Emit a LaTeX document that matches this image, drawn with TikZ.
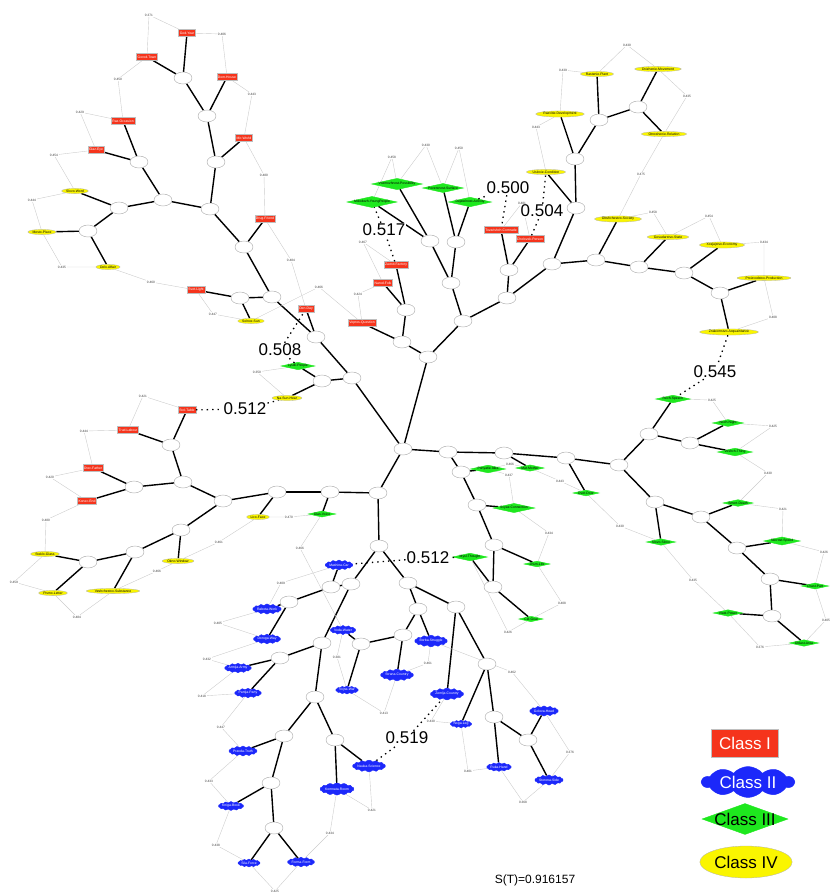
\documentclass[tikz,border=0pt]{standalone}
\usepackage{fontspec}
\setmainfont{Liberation Sans}
\usetikzlibrary{shapes.geometric,shapes.symbols}
\definecolor{cred}{RGB}{245,52,28}
\definecolor{cblue}{RGB}{28,40,250}
\definecolor{cgreen}{RGB}{30,232,30}
\definecolor{cyellow}{RGB}{250,245,0}
\newcommand\mytxt{\fontsize{3.4}{4}\selectfont}
\newcommand\mynum{\fontsize{3.2}{4}\selectfont}
\newcommand\mybig{\fontsize{17}{20}\selectfont}
\newcommand\myleg{\fontsize{17}{20}\selectfont}
\pgfdeclarelayer{bg}
\pgfsetlayers{bg,main}
\tikzset{
 cI/.style={rectangle, fill=cred, draw=gray!50, line width=0.3pt, text=white, font=\mytxt, inner sep=1.2pt, minimum height=7pt},
 cII/.style={cloud, cloud puffs=14, cloud puff arc=110, aspect=4, fill=cblue, draw=cblue, text=white, font=\mytxt, inner sep=0pt},
 cIII/.style={diamond, aspect=4.5, fill=cgreen, draw=cgreen, text=black, font=\mytxt, inner sep=0pt},
 cIV/.style={ellipse, fill=cyellow, draw=gray!60, line width=0.3pt, text=black, font=\mytxt, inner sep=0.6pt},
 inode/.style={ellipse, draw=gray!70, line width=0.4pt, fill=white, minimum width=18pt, minimum height=12pt, inner sep=0pt},
 num/.style={font=\mynum, text=black!75, inner sep=0.6pt, fill=white},
 big/.style={font=\mybig, fill=white, inner sep=1pt},
 tr/.style={line width=1.4pt},
 ord/.style={draw=gray!40, line width=0.4pt},
 bad/.style={line width=1.3pt, dash pattern=on 1.4pt off 4pt},
}
\begin{document}
\begin{tikzpicture}[x=1pt,y=-1pt]
\useasboundingbox (0,0) rectangle (833,895);
% ---------------- internal nodes
\foreach \n/\p in {a1/{183,78},a2/{207,116},a3/{216,162},a4/{210,209},a5/{139,162},a6/{163,200},a7/{119,208},a8/{88,231},a9/{244,247},a10/{240,298},a11/{272,297},a12/{316,337},a13/{352,378},a14/{322,381},
 c0/{403,449},c1/{428,357},c2/{402,342},c3/{406,310},c4/{463,321},c5/{451,283},c6/{430,241},c7/{456,242},c8/{507,298},c9/{509,270},c10/{552,264},
 t1/{576,208},t2/{575,159},t3/{599,120},t4/{638,107},t5/{596,260},t6/{639,267},t7/{684,273},t8/{720,293},
 g1/{448,452},g2/{504,453},g3/{566,458},g4/{619,465},g5/{461,472},g6/{477,505},g7/{494,545},g8/{493,587},g9/{649,434},g10/{690,443},g11/{655,502},g12/{701,517},g13/{737,548},g14/{770,579},g15/{772,616},
 l0/{330,492},l1/{378,493},l2/{277,492},l3/{223,501},l4/{183,482},l5/{171,445},l6/{134,487},l7/{181,530},l8/{135,552},l9/{88,562},
 b1/{379,546},b2/{351,584},b3/{331,587},b4/{289,602},b5/{322,643},b6/{280,658},b7/{315,697},b8/{284,736},b9/{271,783},b10/{274,828},b11/{335,740},b12/{408,583},b13/{418,609},b14/{403,635},b15/{361,644},b16/{456,607},b17/{487,664},b18/{494,717},b19/{528,740}}
 {\node[inode] (\n) at (\p) {};}
% ---------------- leaves: Class I
\node[cI] (godyear) at (187,33) {God-Year};
\node[cI] (gorod) at (147,57) {Gorod-Town};
\node[cI] (dom) at (227,77) {Dom-House};
\node[cI] (mir) at (244,138) {Mir-World};
\node[cI] (raz) at (123,121) {Raz-Occasion};
\node[cI] (glaz) at (96,150) {Glaz-Eye};
\node[cI] (drug) at (265,219) {Drug-Friend};
\node[cI] (svet) at (196,290) {Svet-Light};
\node[cI] (den) at (306,309) {Den-Day};
\node[cI] (vopros) at (362,323) {Vopros-Question};
\node[cI] (narod) at (383,283) {Narod-Folk};
\node[cI] (zavod) at (396,265) {Zavod-Factory};
\node[cI] (tovar) at (501,230) {Tovarishch-Comrade};
\node[cI] (chelovek) at (530,239) {Chelovek-Person};
\node[cI] (stol) at (187,410) {Stol-Table};
\node[cI] (trud) at (128,430) {Trud-Labour};
\node[cI] (otec) at (93,468) {Otec-Father};
\node[cI] (konec) at (87,501) {Konec-End};
% Class IV
\node[cIV] (slovo) at (75,191) {Slovo-Word};
\node[cIV] (mesto) at (42,232) {Mesto-Place};
\node[cIV] (delo) at (108,267) {Delo-Affair};
\node[cIV] (solnce) at (251,321) {Solnce-Sun};
\node[cIV] (sunhear) at (287,398) {Na-Sun-Hear};
\node[cIV] (lico) at (258,517) {Lico-Face};
\node[cIV] (okno) at (178,561) {Okno-Window};
\node[cIV] (steklo) at (45,554) {Steklo-Glass};
\node[cIV] (pismo) at (53,593) {Pismo-Letter};
\node[cIV] (veshchestvo) at (113,591) {Veshchestvo-Substance};
\node[cIV] (uslovie) at (546,172) {Uslovie-Condition};
\node[cIV] (razvitie) at (560,114) {Razvitie-Development};
\node[cIV] (rastenie) at (597,74) {Rastenie-Plant};
\node[cIV] (dvizh) at (658,69) {Dvizhenie-Movement};
\node[cIV] (otnosh) at (664,134) {Otnoshenie-Relation};
\node[cIV] (obshch) at (618,219) {Obshchestvo-Society};
\node[cIV] (gosud) at (668,237) {Gosudarstvo-State};
\node[cIV] (xoz) at (722,245) {Xozjajstvo-Economy};
\node[cIV] (proizv) at (764,278) {Proizvodstvo-Production};
\node[cIV] (znak) at (729,332) {Znakomstvo-Acquaintance};
% Class III
\node[cIII] (lyudi) at (298,366) {Lyudi-People};
\node[cIII] (molodezh) at (372,202) {Molodezh-YoungPeople};
\node[cIII] (vozm) at (397,184) {Vozmozhnost-Possibility};
\node[cIII] (poverx) at (443,188) {Poverxnost-Surface};
\node[cIII] (dejat) at (470,202) {Dejatelnost-Activity};
\node[cIII] (mysl) at (470,557) {Mysl-Thought};
\node[cIII] (ponyat) at (488,469) {Ponyatie-Idea};
\node[cIII] (mat) at (530,468) {Mat-Mother};
\node[cIII] (dver) at (586,493) {Dver-Door};
\node[cIII] (svyaz) at (514,508) {Svyaz-Connection};
\node[cIII] (zhizn) at (537,564) {Zhizn-Life};
\node[cIII] (cel) at (531,619) {Cel-Goal};
\node[cIII] (rech) at (673,399) {Rech-Speech};
\node[cIII] (noch) at (728,423) {Noch-Night};
\node[cIII] (veshch) at (735,452) {Veshch-Thing};
\node[cIII] (smert) at (738,503) {Smert-Death};
\node[cIII] (skor) at (782,541) {Skorost-Speed};
\node[cIII] (chast) at (815,586) {Chast-Part};
\node[cIII] (vlast) at (728,613) {Vlast-Power};
\node[cIII] (oblast) at (804,643) {Oblast-Area};
\node[cIII] (slov) at (661,542) {Slovo-Slovo};
\node[cIII] (grn) at (322,514) {Glas-Voice};
% Class II
\node[cII] (mashina) at (339,565) {Mashina-Car};
\node[cII] (rabota) at (267,609) {Rabota-Work};
\node[cII] (doroga) at (267,639) {Doroga-Way};
\node[cII] (armija) at (238,668) {Armija-Army};
\node[cII] (partija) at (248,693) {Partija-Party};
\node[cII] (pravda) at (243,751) {Pravda-Truth};
\node[cII] (kniga) at (231,806) {Kniga-Book};
\node[cII] (sila) at (249,863) {Sila-Force};
\node[cII] (forma) at (301,862) {Forma-Form};
\node[cII] (komnata) at (337,789) {Komnata-Room};
\node[cII] (nauka) at (369,766) {Nauka-Science};
\node[cII] (voda) at (343,630) {Voda-Water};
\node[cII] (vojna) at (347,690) {Vojna-War};
\node[cII] (strana) at (397,675) {Strana-Country};
\node[cII] (borba) at (431,641) {Borba-Struggle};
\node[cII] (zemlja) at (447,694) {Zemlja-Country};
\node[cII] (noga) at (461,724) {Noga-Leg};
\node[cII] (ruka) at (499,767) {Ruka-Hand};
\node[cII] (golova) at (544,711) {Golova-Head};
\node[cII] (storona) at (549,780) {Storona-Side};
% ---------------- tree edges
\begin{pgfonlayer}{bg}
\foreach \u/\v in {a1/godyear,a1/gorod,a1/a2,a2/dom,a2/a3,a3/mir,a3/a4,a4/a6,a4/a9,a5/raz,a5/glaz,a5/a6,a6/a7,a7/slovo,a7/a8,a8/mesto,a8/delo,
 a9/drug,a9/a11,a10/svet,a10/solnce,a10/a11,a11/a12,a12/den,a12/a13,a14/lyudi,a14/sunhear,a14/a13,a13/c0,
 c0/c1,c0/l1,c0/g1,c1/c2,c1/c4,c2/c3,c2/vopros,c3/zavod,c3/narod,c4/c5,c4/c8,c5/c6,c5/c7,c6/molodezh,c6/vozm,c7/poverx,c7/dejat,
 c8/c9,c8/c10,c9/tovar,c9/chelovek,c10/t1,c10/t5,t1/uslovie,t1/t2,t2/razvitie,t2/t3,t3/rastenie,t3/t4,t4/dvizh,t4/otnosh,
 t5/obshch,t5/t6,t6/gosud,t6/t7,t7/xoz,t7/t8,t8/proizv,t8/znak,
 g1/g2,g1/g5,g2/mat,g2/g3,g3/dver,g3/g4,g4/g9,g4/g11,g5/ponyat,g5/g6,g6/svyaz,g6/g7,g7/zhizn,g7/g8,g8/cel,g8/mysl,
 g9/rech,g9/g10,g10/noch,g10/veshch,g11/slov,g11/g12,g12/smert,g12/g13,g13/skor,g13/g14,g14/chast,g14/g15,g15/vlast,g15/oblast,
 l1/l0,l0/grn,l0/l2,l1/b1,l2/lico,l2/l3,l3/l4,l3/l7,l4/l5,l4/l6,l5/stol,l5/trud,l6/otec,l6/konec,l7/okno,l7/l8,l8/veshchestvo,l8/l9,l9/steklo,l9/pismo,
 b1/b2,b1/b12,b2/b3,b2/b5,b3/mashina,b3/b4,b4/rabota,b4/doroga,b5/b6,b5/b7,b6/armija,b6/partija,b7/b8,b7/b11,b8/pravda,b8/b9,b9/kniga,b9/b10,b10/sila,b10/forma,b11/komnata,b11/nauka,
 b12/b13,b12/b16,b13/b14,b13/borba,b14/b15,b14/strana,b15/voda,b15/vojna,b16/zemlja,b16/b17,b17/noga,b17/b18,b18/ruka,b18/b19,b19/golova,b19/storona}
 {\draw[tr] (\u) -- (\v);}
\end{pgfonlayer}
% ---------------- order labels
\foreach \a/\n/\p/\t/\b in {
 gorod/n1/{149,15}/0.371/godyear, godyear/n2/{222,34}/0.406/dom, dom/n3/{252,94}/0.443/mir, mir/n4/{264,175}/0.480/drug,
 drug/n5/{291,260}/0.484/den, solnce/n6/{319,287}/0.466/vopros, vopros/n7/{358,294}/0.424/narod, narod/n8/{363,242}/0.467/zavod,
 molodezh/n10/{392,157}/0.458/vozm, vozm/n11/{426,145}/0.430/poverx, poverx/n12/{459,148}/0.450/dejat,
 tovar/n14/{522,203}/0.481/chelovek,
 uslovie/n16/{536,127}/0.443/razvitie, razvitie/n17/{563,70}/0.439/rastenie, rastenie/n18/{627,45}/0.430/dvizh, dvizh/n19/{687,96}/0.435/otnosh,
 otnosh/n20/{641,174}/0.475/obshch, obshch/n21/{653,212}/0.458/gosud, gosud/n22/{709,216}/0.454/xoz, xoz/n23/{764,242}/0.434/proizv, proizv/n24/{773,317}/0.408/znak,
 rech/n26/{712,400}/0.425/noch, noch/n27/{773,426}/0.425/veshch, veshch/n28/{768,473}/0.430/smert, smert/n29/{783,509}/0.421/skor,
 skor/n30/{824,552}/0.426/chast, chast/n31/{826,620}/0.405/oblast, oblast/n32/{760,647}/0.376/vlast, vlast/n33/{693,580}/0.435/slov,
 slov/n34/{620,526}/0.430/dver, dver/n35/{560,481}/0.443/mat, mat/n36/{510,464}/0.466/ponyat, ponyat/n37/{509,475}/0.437/svyaz,
 svyaz/n38/{549,533}/0.434/zhizn, zhizn/n39/{562,603}/0.408/cel, cel/n40/{508,632}/0.426/mysl,
 mashina/n42/{281,583}/0.409/rabota, rabota/n43/{218,623}/0.405/doroga, doroga/n44/{207,659}/0.432/armija, armija/n45/{202,696}/0.418/partija,
 partija/n46/{221,727}/0.447/pravda, pravda/n47/{209,781}/0.433/kniga, kniga/n48/{216,845}/0.438/sila, sila/n49/{275,891}/0.425/forma,
 forma/n50/{330,833}/0.434/komnata, komnata/n51/{372,810}/0.421/nauka,
 zemlja/n53/{431,721}/0.430/noga, noga/n54/{468,771}/0.401/ruka, ruka/n55/{523,802}/0.368/storona, storona/n56/{570,752}/0.376/golova,
 golova/n57/{512,672}/0.462/borba, borba/n58/{428,663}/0.461/strana, strana/n59/{384,713}/0.413/vojna, vojna/n60/{337,657}/0.381/voda,
 voda/n61/{300,548}/0.466/grn, grn/n62/{289,517}/0.470/lico, lico/n63/{219,542}/0.461/okno, okno/n64/{157,571}/0.466/veshchestvo,
 veshchestvo/n65/{77,617}/0.484/pismo, pismo/n66/{14,582}/0.459/steklo, steklo/n67/{46,520}/0.480/konec, konec/n68/{50,477}/0.420/otec,
 otec/n69/{84,431}/0.444/trud, trud/n70/{143,396}/0.421/stol, sunhear/n72/{257,372}/0.350/lyudi,
 solnce/n74/{213,314}/0.447/svet, svet/n75/{151,282}/0.460/delo, delo/n76/{62,267}/0.435/mesto, mesto/n77/{32,200}/0.444/slovo,
 slovo/n78/{54,155}/0.454/glaz, glaz/n79/{80,112}/0.429/raz, raz/n80/{118,79}/0.450/gorod}
 {\node[num] (\n) at (\p) {\t};
  \begin{pgfonlayer}{bg}\draw[ord] (\a) -- (\n) -- (\b);\end{pgfonlayer}}
% ---------------- badly placed pairs
\foreach \a/\n/\p/\t/\b in {zavod/m9/{384,230}/0.517/molodezh, dejat/m13/{508,188}/0.500/tovar, chelovek/m15/{542,211}/0.504/uslovie,
 znak/m25/{715,372}/0.545/rech, mysl/m41/{428,558}/0.512/mashina, nauka/m52/{407,738}/0.519/zemlja,
 stol/m71/{245,409}/0.512/sunhear, lyudi/m73/{280,350}/0.508/den}
 {\node[big] (\n) at (\p) {\t};
  \draw[bad] (\a) -- (\n) -- (\b);}
% ---------------- legend
\node[cI, font=\myleg, inner sep=3pt, minimum width=67pt, minimum height=28pt] (lg1) at (745,743) {Class I};
\node[cloud, cloud puffs=10, cloud puff arc=100, aspect=2.9, fill=cblue, draw=cblue, minimum width=92pt, minimum height=31pt, inner sep=0pt] (lg2) at (748,782) {};
\node[font=\myleg, text=white] (lg2t) at (lg2.center) {Class II};
\node[diamond, fill=cgreen, draw=cgreen, minimum width=86pt, minimum height=31pt, inner sep=0pt] (lg3) at (745,819) {};
\node[font=\myleg] (lg3t) at (lg3.center) {Class III};
\node[cIV, font=\myleg, inner sep=1pt, minimum width=78pt, minimum height=32pt] (lg4) at (746,862) {Class IV};
\node[font=\fontsize{12}{14}\selectfont] (st) at (535,880) {S(T)=0.916157};
\end{tikzpicture}
\end{document}
